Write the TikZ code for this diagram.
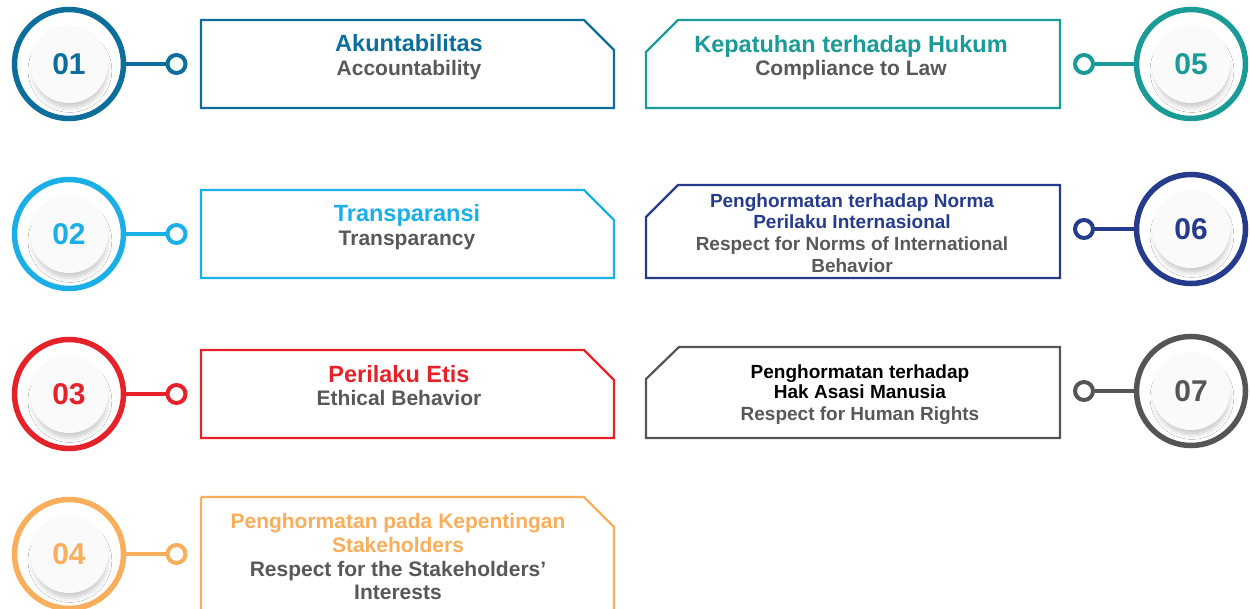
\documentclass[tikz,border=0pt]{standalone}
\usepackage{fontspec}
\setmainfont{Liberation Sans}
\usetikzlibrary{shadows.blur}
\definecolor{cA}{HTML}{0C6E9B}
\definecolor{cB}{HTML}{1AAFE6}
\definecolor{cC}{HTML}{E52229}
\definecolor{cD}{HTML}{F9AE5B}
\definecolor{cE}{HTML}{1A9B97}
\definecolor{cF}{HTML}{263B8B}
\definecolor{cG}{HTML}{555555}
\definecolor{subgray}{HTML}{585858}
\definecolor{discfill}{HTML}{FAFAFA}
\tikzset{
  bigring/.style={circle, draw=#1, line width=5.5pt, minimum size=109pt, inner sep=0pt, fill=white},
  innerdisc/.style={circle, fill=discfill, minimum size=78pt, inner sep=0pt,
    blur shadow={shadow scale=0.93, shadow xshift=1pt, shadow yshift=-7pt, shadow blur radius=6pt, shadow blur steps=12, shadow opacity=25}},
  digits/.style={text=#1, font=\bfseries\fontsize{30}{30}\selectfont, inner sep=0pt},
  smallring/.style={circle, draw=#1, line width=4pt, minimum size=18pt, inner sep=0pt, fill=white},
  link/.style={draw=#1, line width=4pt},
  framebox/.style={draw=#1, line width=2.2pt, line join=miter},
  ttl/.style={text=#1, font=\bfseries\fontsize{23.5}{26}\selectfont, anchor=base, inner sep=0pt},
  sub/.style={text=subgray, font=\bfseries\fontsize{21}{24}\selectfont, anchor=base, inner sep=0pt},
  ttls/.style={text=#1, font=\bfseries\fontsize{19}{22}\selectfont, anchor=base, inner sep=0pt},
  subs/.style={text=subgray, font=\bfseries\fontsize{19}{22}\selectfont, anchor=base, inner sep=0pt},
  ttlm/.style={text=#1, font=\bfseries\fontsize{21}{24}\selectfont, anchor=base, inner sep=0pt},
}
\begin{document}
\begin{tikzpicture}[x=1pt,y=-1pt]
\useasboundingbox (0,0) rectangle (1250,609);
% ---------- left column ----------
\foreach \c/\n/\y in {cA/01/64, cB/02/234, cC/03/394, cD/04/554}{
  \node[bigring=\c] (c\n) at (69,\y) {};
  \node[innerdisc] (d\n) at (69,\y) {};
  \node[digits=\c] (n\n) at (69,\y) {\n};
  \node[smallring=\c] (r\n) at (176.5,\y) {};
  \draw[link=\c] (c\n) -- (r\n);
}
% boxes (right-cut corner)
\draw[framebox=cA] (201,20) -- (584,20) -- (614,50) -- (614,108) -- (201,108) -- cycle;
\draw[framebox=cB] (201,190) -- (584,190) -- (614,220) -- (614,278) -- (201,278) -- cycle;
\draw[framebox=cC] (201,350) -- (584,350) -- (614,380) -- (614,438) -- (201,438) -- cycle;
\draw[framebox=cD] (201,497) -- (584,497) -- (614,527) -- (614,615) (201,615) -- (201,497);
% ---------- right column ----------
\foreach \c/\n/\y in {cE/05/64, cF/06/229, cG/07/391}{
  \node[bigring=\c] (c\n) at (1191,\y) {};
  \node[innerdisc] (d\n) at (1191,\y) {};
  \node[digits=\c] (n\n) at (1191,\y) {\n};
  \node[smallring=\c] (r\n) at (1084,\y) {};
  \draw[link=\c] (c\n) -- (r\n);
}
\draw[framebox=cE] (678,20) -- (1060,20) -- (1060,108) -- (646,108) -- (646,52) -- cycle;
\draw[framebox=cF] (678,185) -- (1060,185) -- (1060,278) -- (646,278) -- (646,217) -- cycle;
\draw[framebox=cG] (679,347) -- (1060,347) -- (1060,438) -- (646,438) -- (646,379) -- cycle;
% ---------- texts ----------
\node[ttl=cA] (t1a) at (409,52) {Akuntabilitas};
\node[sub] (t1b) at (409,76) {Accountability};
\node[ttl=cB] (t2a) at (407,222) {Transparansi};
\node[sub] (t2b) at (407,246) {Transparancy};
\node[ttl=cC] (t3a) at (399,382) {Perilaku Etis};
\node[sub] (t3b) at (399,406) {Ethical Behavior};
\node[ttlm=cD] (t4a) at (398,528) {Penghormatan pada Kepentingan};
\node[ttlm=cD] (t4b) at (398,552) {Stakeholders};
\node[sub] (t4c) at (398,576) {Respect for the Stakeholders’};
\node[sub] (t4d) at (398,599) {Interests};
\node[ttl=cE] (t5a) at (851,53) {Kepatuhan terhadap Hukum};
\node[sub] (t5b) at (851,76) {Compliance to Law};
\node[ttls=cF] (t6a) at (852,208) {Penghormatan terhadap Norma};
\node[ttls=cF] (t6b) at (852,229) {Perilaku Internasional};
\node[subs] (t6c) at (852,251) {Respect for Norms of International};
\node[subs] (t6d) at (852,273) {Behavior};
\node[ttls=black] (t7a) at (860,378) {Penghormatan terhadap};
\node[ttls=black] (t7b) at (860,399) {Hak Asasi Manusia};
\node[subs] (t7c) at (860,420) {Respect for Human Rights};
\end{tikzpicture}
\end{document}
